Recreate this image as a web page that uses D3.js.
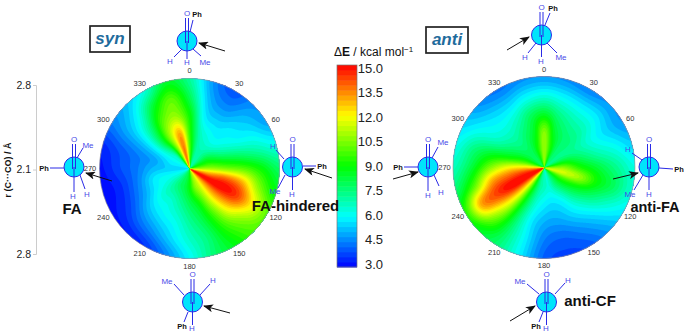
<!DOCTYPE html>
<html>
<head>
<meta charset="UTF-8">
<title>syn / anti polar energy maps</title>
<script src="https://cdn.jsdelivr.net/npm/d3@7"></script>
<style>
	html, body { margin: 0; padding: 0; background: #fff; }
	text { font-family: "Liberation Sans", Arial, sans-serif; }
</style>
</head>
<body>
<script>
// torsion angle (deg, clockwise from top) and radial fraction of the polar grid
var angles = d3.range(0, 360, 15);
var radii = [0.2, 0.4, 0.6, 0.8, 1];

// one row per angle, one column per radius
var synE = [
	[10.0, 9.5, 9.0, 8.0, 7.2],
	[7.5, 7.0, 6.0, 5.3, 4.8],
	[7.0, 6.3, 5.5, 4.6, 4.0],
	[7.5, 6.2, 5.8, 5.2, 4.7],
	[8.5, 7.0, 6.2, 5.8, 5.0],
	[9.5, 8.5, 7.7, 7.0, 6.3],
	[11.0, 10.5, 10.0, 9.0, 7.8],
	[13.2, 13.8, 13.0, 10.5, 8.8],
	[15.0, 15.0, 14.3, 12.0, 10.0],
	[13.2, 13.2, 12.4, 10.6, 9.8],
	[11.5, 11.0, 10.0, 9.2, 8.7],
	[10.5, 9.0, 8.2, 7.6, 7.6],
	[9.0, 8.0, 7.2, 6.6, 6.0],
	[8.2, 7.2, 6.3, 5.6, 4.6],
	[7.8, 6.6, 5.9, 4.8, 3.6],
	[7.2, 6.5, 5.5, 4.3, 3.3],
	[6.5, 6.0, 4.8, 3.7, 3.2],
	[6.0, 5.8, 4.5, 3.5, 3.1],
	[5.5, 5.2, 4.4, 3.8, 3.2],
	[5.8, 5.0, 4.5, 4.0, 3.5],
	[6.2, 6.0, 5.5, 5.0, 4.5],
	[7.0, 8.2, 7.5, 6.2, 5.3],
	[10.5, 11.0, 10.0, 8.5, 6.5],
	[13.6, 13.0, 10.8, 10.0, 8.5]
];
var antiE = [
	[10.8, 10.5, 8.4, 6.3, 4.8],
	[9.5, 8.6, 7.5, 6.0, 4.7],
	[8.0, 7.8, 7.0, 5.8, 4.5],
	[7.5, 7.5, 6.8, 5.8, 4.8],
	[7.6, 7.2, 6.3, 5.5, 4.8],
	[9.0, 8.0, 7.0, 6.3, 5.5],
	[10.7, 9.3, 8.3, 7.3, 6.3],
	[11.5, 10.8, 9.0, 7.8, 6.5],
	[9.8, 9.0, 7.8, 6.6, 5.8],
	[8.5, 7.5, 6.4, 5.4, 4.8],
	[7.5, 6.2, 5.5, 4.6, 4.0],
	[6.6, 5.7, 5.0, 4.2, 3.8],
	[6.8, 5.9, 5.1, 4.5, 4.1],
	[7.4, 6.7, 6.0, 5.9, 5.8],
	[9.3, 8.8, 8.2, 7.8, 7.5],
	[12.5, 12.3, 11.6, 10.3, 8.5],
	[15.0, 15.0, 14.2, 13.0, 9.3],
	[14.5, 14.0, 13.0, 10.0, 7.8],
	[12.5, 12.0, 10.5, 8.3, 6.8],
	[10.0, 9.2, 8.5, 7.5, 6.2],
	[8.5, 7.8, 6.8, 6.2, 5.5],
	[8.0, 7.3, 6.4, 5.6, 4.7],
	[8.3, 7.8, 6.8, 5.5, 4.4],
	[9.5, 8.7, 7.8, 6.0, 4.7]
];

var angleTicks = [0, 30, 60, 120, 150, 180, 210, 240, 270, 300, 330];
var colorTicks = [3, 4.5, 6, 7.5, 9, 10.5, 12, 13.5, 15];
var levels = d3.range(3, 15, 0.3);

var width = 685, height = 333;

var color = d3.scaleLinear()
	.domain([3, 6, 9, 12, 15])
	.range(["#0000ff", "#00ffff", "#00ff00", "#ffff00", "#ff0000"]);

var svg = d3.select("body").append("svg")
	.attr("width", width)
	.attr("height", height)
	.style("display", "block");

var defs = svg.append("defs");
defs.append("marker")
	.attr("id", "head")
	.attr("viewBox", "0 0 10 8")
	.attr("refX", 9).attr("refY", 4)
	.attr("markerUnits", "userSpaceOnUse")
	.attr("markerWidth", 11).attr("markerHeight", 8)
	.attr("orient", "auto")
	.append("path")
	.attr("d", "M0,0L10,4L0,8L2.5,4Z")
	.attr("fill", "#111");

// Catmull-Rom through four samples
function cubic(a, b, c, d, t) {
	return b + 0.5 * t * (c - a + t * (2 * a - 5 * b + 4 * c - d + t * (3 * (b - c) + d - a)));
}

function radial(row, f) {
	var u = Math.max(0, Math.min(radii.length - 1.0001, (f - radii[0]) / (radii[1] - radii[0])));
	var i = Math.floor(u);
	var a = row[Math.max(0, i - 1)], d = row[Math.min(radii.length - 1, i + 2)];
	return cubic(a, row[i], row[i + 1], d, u - i);
}

function energy(table, f, deg) {
	var n = angles.length;
	var u = ((deg % 360) + 360) % 360 / 15;
	var i = Math.floor(u);
	var pick = function (k) { return radial(table[(i + k + n) % n], f); };
	return cubic(pick(-1), pick(0), pick(1), pick(2), u - i);
}

function polarMap(id, table, cx, cy, R) {
	var k = 2, n = Math.ceil(2 * R * k) + 2;
	var values = new Float64Array(n * n);
	for (var j = 0; j < n; j++) {
		for (var i = 0; i < n; i++) {
			var dx = i / k - n / k / 2, dy = j / k - n / k / 2;
			var f = Math.min(1, Math.sqrt(dx * dx + dy * dy) / R);
			var deg = Math.atan2(dx, -dy) * 180 / Math.PI;
			values[j * n + i] = energy(table, f, deg);
		}
	}

	defs.append("clipPath").attr("id", id)
		.append("circle").attr("r", R);

	var g = svg.append("g").attr("transform", "translate(" + cx + "," + cy + ")");
	var bands = g.append("g").attr("clip-path", "url(#" + id + ")");

	bands.append("circle").attr("r", R).attr("fill", color(3));
	bands.append("g")
		.attr("transform", "scale(" + 1 / k + ")translate(" + (-n / 2) + "," + (-n / 2) + ")")
		.selectAll("path")
		.data(d3.contours().size([n, n]).thresholds(levels)(values))
		.enter().append("path")
		.attr("d", d3.geoPath())
		.attr("fill", function (d) { return color(d.value + 0.15); });

	g.append("circle").attr("r", R)
		.attr("fill", "none").attr("stroke", "#999").attr("stroke-width", 0.7);

	g.selectAll("text.tick")
		.data(angleTicks)
		.enter().append("text")
		.attr("class", "tick")
		.attr("x", function (d) { return 99.5 * Math.sin(d * Math.PI / 180); })
		.attr("y", function (d) { return -98 * Math.cos(d * Math.PI / 180); })
		.attr("dy", "0.35em")
		.attr("text-anchor", "middle")
		.attr("font-size", 7.5)
		.attr("fill", "#333")
		.text(function (d) { return d; });
}

polarMap("clip-syn", synE, 189.5, 168.5, 90);
polarMap("clip-anti", antiE, 544, 167.5, 91);

// colour bar
var barY = d3.scaleLinear().domain([3, 15]).range([267, 65]);
var bar = svg.append("g");
bar.selectAll("rect")
	.data(levels)
	.enter().append("rect")
	.attr("x", 337)
	.attr("width", 20)
	.attr("y", function (d) { return barY(d + 0.3); })
	.attr("height", function (d) { return barY(d) - barY(d + 0.3) + 0.5; })
	.attr("fill", function (d) { return color(d + 0.15); });
bar.append("rect")
	.attr("x", 337).attr("y", 65).attr("width", 20).attr("height", 202)
	.attr("fill", "none").attr("stroke", "#777").attr("stroke-width", 0.7);

var labelY = d3.scaleLinear().domain([3, 15]).range([264, 68]);
var colorAxis = svg.append("g")
	.attr("transform", "translate(383,0)")
	.call(d3.axisLeft(labelY).tickValues(colorTicks).tickSize(0).tickFormat(d3.format(".1f")));
colorAxis.select(".domain").remove();
colorAxis.selectAll("text")
	.attr("x", 0)
	.attr("font-size", 13)
	.attr("font-family", '"Liberation Sans", Arial, sans-serif')
	.attr("fill", "#222");

var barTitle = svg.append("text")
	.attr("x", 334).attr("y", 56)
	.attr("font-size", 12)
	.attr("fill", "#111");
barTitle.append("tspan").text("\u0394");
barTitle.append("tspan").attr("font-weight", "bold").text("E");
barTitle.append("tspan").text(" / kcal mol");
barTitle.append("tspan").attr("font-size", 8).attr("dy", -4).text("\u22121");

// left radial axis
var rAxisScale = d3.scaleLinear().domain([-0.7, 0.7]).range([254, 85]);
var rAxis = svg.append("g")
	.attr("transform", "translate(36,0)")
	.call(d3.axisLeft(rAxisScale)
		.tickValues([-0.7, 0, 0.7])
		.tickSize(3)
		.tickPadding(2)
		.tickFormat(function (d) { return (2.1 + Math.abs(d)).toFixed(1); }));
rAxis.select(".domain").attr("stroke", "#ccc").attr("stroke-width", 1);
rAxis.selectAll("line").attr("stroke", "#ccc");
rAxis.selectAll("text")
	.attr("font-size", 10.5)
	.attr("font-family", '"Liberation Sans", Arial, sans-serif')
	.attr("fill", "#222");

svg.append("text")
	.attr("transform", "translate(11,170)rotate(-90)")
	.attr("text-anchor", "middle")
	.attr("font-size", 9)
	.attr("font-weight", "bold")
	.attr("fill", "#111")
	.text("r (C\u00b7\u00b7\u00b7CO) / \u00c5");

// syn / anti boxes
[["syn", 90, 26, 40, 26], ["anti", 426, 27, 42, 26]].forEach(function (b) {
	svg.append("rect")
		.attr("x", b[1]).attr("y", b[2]).attr("width", b[3]).attr("height", b[4])
		.attr("fill", "#fff").attr("stroke", "#222").attr("stroke-width", 1.7);
	svg.append("text")
		.attr("x", b[1] + b[3] / 2).attr("y", b[2] + 18)
		.attr("text-anchor", "middle")
		.attr("font-size", 17)
		.attr("font-weight", "bold")
		.attr("font-style", "italic")
		.attr("fill", "#1f6b9c")
		.text(b[0]);
});

// Newman projections
var newmans = [
	{ c: [187, 41], bonds: [[190, 32, 193, 20], [182, 49, 174, 57], [193, 49, 201, 56], [187, 41, 187, 59]],
		labels: [["Ph", 197, 14, 1], ["H", 170, 61], ["H", 187, 62.5], ["Me", 205, 62]], arrow: [225, 51, 199, 43] },
	{ c: [292.5, 167], bonds: [[284, 159, 276, 150], [303, 166, 316, 166], [285, 175, 278, 188], [292.5, 167, 292.5, 190]],
		labels: [["H", 273, 146], ["Ph", 322, 166, 1], ["Me", 275, 191], ["H", 292, 194]], arrow: [332, 178, 305, 169] },
	{ c: [74, 167], bonds: [[77, 158, 83, 148], [50, 168, 64, 168], [74, 167, 74, 192], [80, 175, 85, 189]],
		labels: [["Me", 88, 145], ["Ph", 44, 168, 1], ["H", 73, 196], ["H", 87, 194]], arrow: [112, 181, 86, 173] },
	{ c: [192.5, 302], bonds: [[184, 295, 174, 284], [200, 295, 210, 284], [188, 312, 184, 322], [192.5, 302, 192.5, 325]],
		labels: [["Me", 167, 281], ["H", 213, 280], ["Ph", 182, 326, 1], ["H", 192, 328]], arrow: [230, 313, 204, 306] },
	{ c: [541.5, 35], bonds: [[545, 25, 550, 13], [536, 43, 528, 53], [547, 43, 557, 53], [541.5, 35, 541.5, 57]],
		labels: [["Ph", 553, 8, 1], ["H", 525, 57], ["H", 541, 61], ["Me", 561, 57]], arrow: [507, 50, 529, 37] },
	{ c: [428, 167], bonds: [[432, 158, 438, 147], [404, 167, 418, 167], [428, 167, 428, 191], [434, 175, 439, 186]],
		labels: [["Me", 443, 142], ["Ph", 398, 167, 1], ["H", 428, 195], ["H", 441, 192]], arrow: [393, 179, 418, 172] },
	{ c: [649, 167], bonds: [[642, 160, 632, 153], [659, 168, 673, 169], [643, 175, 634, 190], [649, 167, 649, 190]],
		labels: [["H", 628, 149], ["Ph", 679, 169, 1], ["Me", 630, 194], ["H", 649, 194.5]], arrow: [613, 179, 638, 173] },
	{ c: [546.5, 302], bonds: [[539, 294, 527, 284], [555, 294, 565, 283], [543, 312, 539, 322], [546.5, 302, 546.5, 325]],
		labels: [["Me", 520, 281], ["H", 568, 280], ["Ph", 536, 326, 1], ["H", 546, 328]], arrow: [510, 321, 535, 306] }
];

var blue = "#2a2ae6";
newmans.forEach(function (m) {
	var g = svg.append("g");
	var cx = m.c[0], cy = m.c[1];
	g.append("circle").attr("cx", cx).attr("cy", cy).attr("r", 10)
		.attr("fill", "#00e4fb").attr("stroke", blue).attr("stroke-width", 1);
	[-1.5, 1.5].forEach(function (o) {
		g.append("line")
			.attr("x1", cx + o).attr("y1", cy + 2)
			.attr("x2", cx + o).attr("y2", cy - 23)
			.attr("stroke", blue).attr("stroke-width", 1);
	});
	g.selectAll("line.bond")
		.data(m.bonds)
		.enter().append("line")
		.attr("class", "bond")
		.attr("x1", function (d) { return d[0]; })
		.attr("y1", function (d) { return d[1]; })
		.attr("x2", function (d) { return d[2]; })
		.attr("y2", function (d) { return d[3]; })
		.attr("stroke", blue).attr("stroke-width", 1);
	g.append("text")
		.attr("x", cx).attr("y", cy - 28).attr("dy", "0.35em")
		.attr("text-anchor", "middle").attr("font-size", 8).attr("fill", "#4a4ae8")
		.text("O");
	g.selectAll("text.sub")
		.data(m.labels)
		.enter().append("text")
		.attr("class", "sub")
		.attr("x", function (d) { return d[1]; })
		.attr("y", function (d) { return d[2]; })
		.attr("dy", "0.35em")
		.attr("text-anchor", "middle")
		.attr("font-size", function (d) { return d[3] ? 7.5 : 8; })
		.attr("font-weight", function (d) { return d[3] ? "bold" : "normal"; })
		.attr("fill", function (d) { return d[3] ? "#111" : "#4a4ae8"; })
		.text(function (d) { return d[0]; });
	g.append("line")
		.attr("x1", m.arrow[0]).attr("y1", m.arrow[1])
		.attr("x2", m.arrow[2]).attr("y2", m.arrow[3])
		.attr("stroke", "#111").attr("stroke-width", 1)
		.attr("marker-end", "url(#head)");
});

// conformer names
[["FA", 72, 209], ["FA-hindered", 295.5, 206], ["anti-FA", 655, 206.5], ["anti-CF", 590, 301]].forEach(function (t) {
	svg.append("text")
		.attr("x", t[1]).attr("y", t[2]).attr("dy", "0.35em")
		.attr("text-anchor", "middle")
		.attr("font-size", t[0] == "anti-FA" ? 14.5 : 15)
		.attr("font-weight", "bold")
		.attr("fill", "#111")
		.text(t[0]);
});
</script>
</body>
</html>
